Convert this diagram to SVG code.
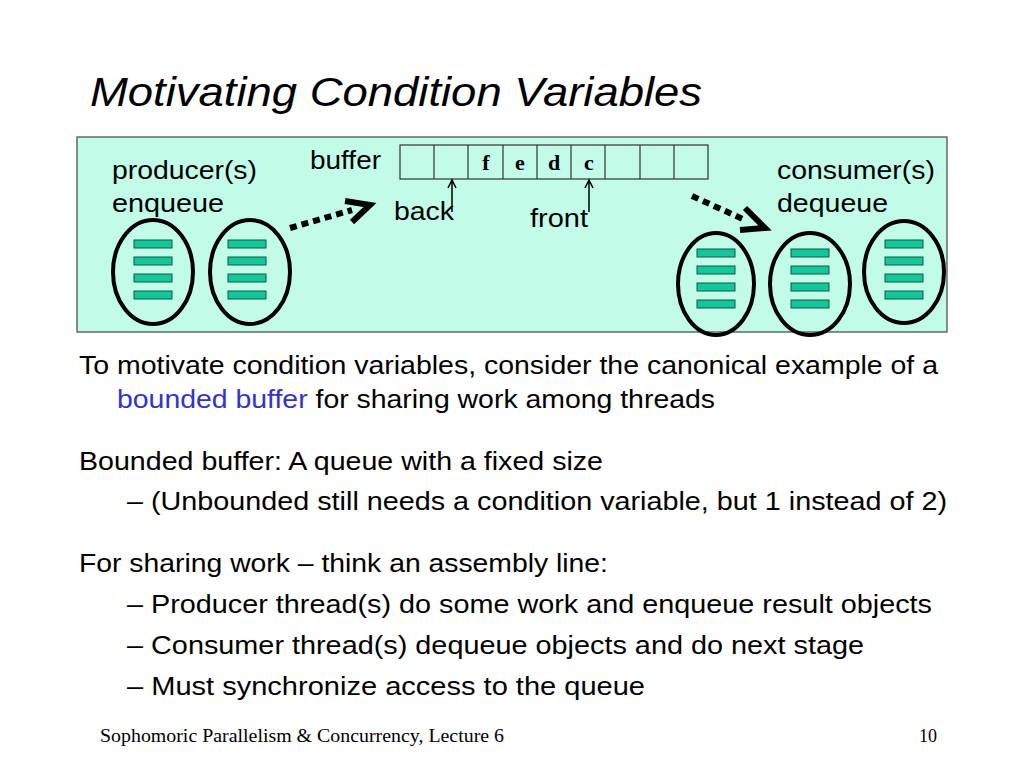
<svg xmlns="http://www.w3.org/2000/svg" width="1024" height="768" viewBox="0 0 1024 768">
<style>
text{font-family:"Liberation Sans",Arial,sans-serif;fill:#000}
.cell{fill:none;stroke:#333;stroke-width:1.2}
.th{fill:none;stroke:#000;stroke-width:4}
.bar{fill:#14c79a;stroke:#0a5a45;stroke-width:1}
.dot{fill:none;stroke:#000;stroke-width:6;stroke-dasharray:7 5}
.b{font-size:26px}
</style>
<rect width="1024" height="768" fill="#fff"/>
<text x="90" y="106" font-size="40" font-style="italic" textLength="612" lengthAdjust="spacingAndGlyphs">Motivating Condition Variables</text>
<rect x="77" y="137" width="870" height="195" fill="#c2fce9" stroke="#444" stroke-width="1.2"/>
<text x="112" y="179" class="b" textLength="145" lengthAdjust="spacingAndGlyphs">producer(s)</text>
<text x="112" y="212" class="b" textLength="112" lengthAdjust="spacingAndGlyphs">enqueue</text>
<text x="777" y="179" class="b" textLength="158" lengthAdjust="spacingAndGlyphs">consumer(s)</text>
<text x="777" y="212" class="b" textLength="111" lengthAdjust="spacingAndGlyphs">dequeue</text>
<text x="310" y="169" class="b" textLength="71" lengthAdjust="spacingAndGlyphs">buffer</text>
<text x="394" y="220" class="b" textLength="60" lengthAdjust="spacingAndGlyphs">back</text>
<text x="530" y="227" class="b" textLength="58" lengthAdjust="spacingAndGlyphs">front</text>
<g id="buffer">
<rect x="400" y="145" width="308" height="34" class="cell"/>
<path d="M434 145V179M468 145V179M503 145V179M537 145V179M571 145V179M605 145V179M640 145V179M674 145V179" class="cell"/>
<g font-weight="bold" font-size="22" text-anchor="middle">
<text x="486" y="170" style="font-family:'Liberation Serif',serif">f</text>
<text x="520" y="170" style="font-family:'Liberation Serif',serif">e</text>
<text x="554" y="170" style="font-family:'Liberation Serif',serif">d</text>
<text x="589" y="170" style="font-family:'Liberation Serif',serif">c</text>
</g>
</g>
<g id="connectors">
<path d="M452 212V181M448 188L452 180L456 188" fill="none" stroke="#000" stroke-width="1.5"/>
<path d="M589 212V181M585 188L589 180L593 188" fill="none" stroke="#000" stroke-width="1.5"/>
<path d="M290 228L352 210" class="dot"/>
<path d="M345 201L370 205L352 222" fill="none" stroke="#000" stroke-width="6"/>
<path d="M692 196L745 220" class="dot"/>
<path d="M745 208L765 228L740 230" fill="none" stroke="#000" stroke-width="6"/>
</g>
<g id="producers">
<ellipse cx="153" cy="272" rx="40" ry="52" class="th"/>
<ellipse cx="250" cy="272" rx="40" ry="52" class="th"/>
<rect x="134" y="240" width="38" height="8" class="bar"/><rect x="134" y="257" width="38" height="8" class="bar"/><rect x="134" y="274" width="38" height="8" class="bar"/><rect x="134" y="291" width="38" height="8" class="bar"/>
<rect x="228" y="240" width="38" height="8" class="bar"/><rect x="228" y="257" width="38" height="8" class="bar"/><rect x="228" y="274" width="38" height="8" class="bar"/><rect x="228" y="291" width="38" height="8" class="bar"/>
</g>
<g id="consumers">
<ellipse cx="716" cy="284" rx="38" ry="51" class="th"/>
<ellipse cx="810" cy="284" rx="40" ry="51" class="th"/>
<ellipse cx="904" cy="272" rx="40" ry="51" class="th"/>
<rect x="697" y="249" width="38" height="8" class="bar"/><rect x="697" y="266" width="38" height="8" class="bar"/><rect x="697" y="283" width="38" height="8" class="bar"/><rect x="697" y="300" width="38" height="8" class="bar"/>
<rect x="791" y="249" width="38" height="8" class="bar"/><rect x="791" y="266" width="38" height="8" class="bar"/><rect x="791" y="283" width="38" height="8" class="bar"/><rect x="791" y="300" width="38" height="8" class="bar"/>
<rect x="885" y="240" width="38" height="8" class="bar"/><rect x="885" y="257" width="38" height="8" class="bar"/><rect x="885" y="274" width="38" height="8" class="bar"/><rect x="885" y="291" width="38" height="8" class="bar"/>
</g>
<g font-size="25">
<text x="79" y="374" textLength="859" lengthAdjust="spacingAndGlyphs">To motivate condition variables, consider the canonical example of a</text>
<text x="117" y="408" textLength="598" lengthAdjust="spacingAndGlyphs"><tspan fill="#3333cc">bounded buffer</tspan> for sharing work among threads</text>
<text x="79" y="470" textLength="524" lengthAdjust="spacingAndGlyphs">Bounded buffer: A queue with a fixed size</text>
<text x="127" y="510" textLength="820" lengthAdjust="spacingAndGlyphs">–  (Unbounded still needs a condition variable, but 1 instead of 2)</text>
<text x="79" y="572" textLength="529" lengthAdjust="spacingAndGlyphs">For sharing work – think an assembly line:</text>
<text x="127" y="613" textLength="805" lengthAdjust="spacingAndGlyphs">–  Producer thread(s) do some work and enqueue result objects</text>
<text x="127" y="654" textLength="737" lengthAdjust="spacingAndGlyphs">–  Consumer thread(s) dequeue objects and do next stage</text>
<text x="127" y="695" textLength="518" lengthAdjust="spacingAndGlyphs">–  Must synchronize access to the queue</text>
</g>
<text x="100" y="742" font-size="18" textLength="404" lengthAdjust="spacingAndGlyphs" style="font-family:'Liberation Serif',serif">Sophomoric Parallelism &amp; Concurrency, Lecture 6</text>
<text x="937" y="742" font-size="18" text-anchor="end" style="font-family:'Liberation Serif',serif">10</text>
</svg>
